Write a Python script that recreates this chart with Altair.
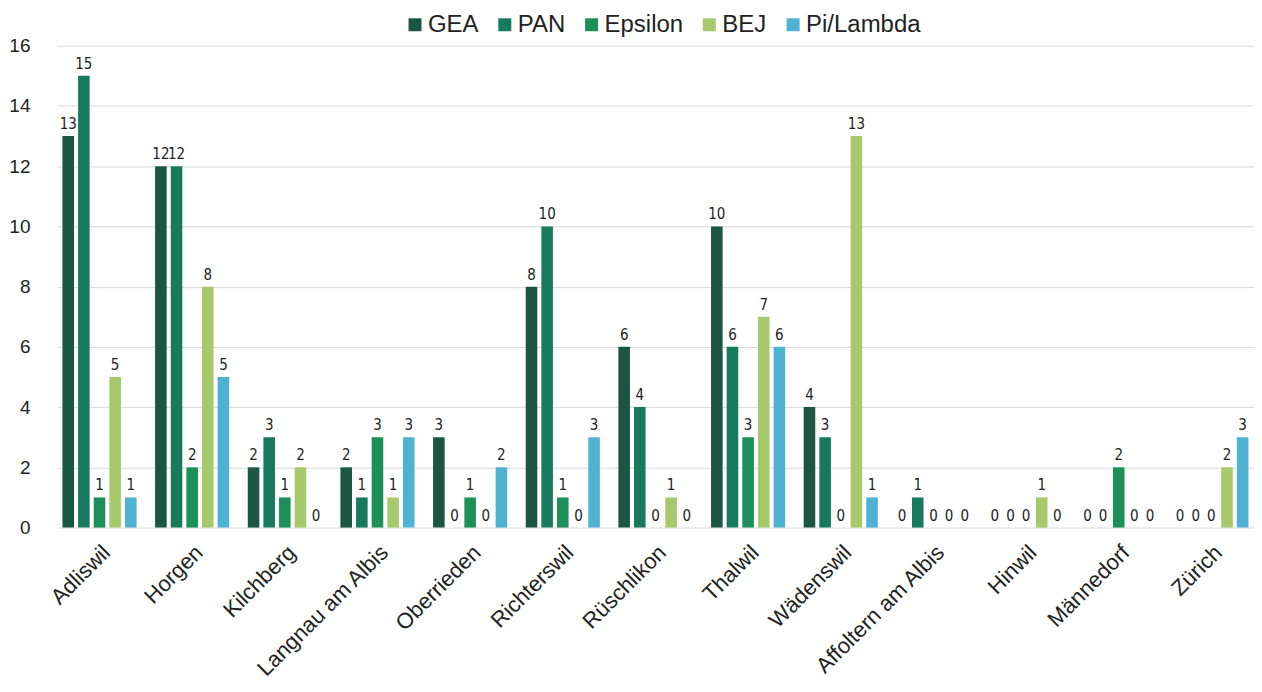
import altair as alt
import pandas as pd

categories = ["Adliswil", "Horgen", "Kilchberg", "Langnau am Albis", "Oberrieden",
              "Richterswil", "Rüschlikon", "Thalwil", "Wädenswil", "Affoltern am Albis",
              "Hinwil", "Männedorf", "Zürich"]
series = ["GEA", "PAN", "Epsilon", "BEJ", "Pi/Lambda"]
gea = [13, 12, 2, 2, 3, 8, 6, 10, 4, 0, 0, 0, 0]
pan = [15, 12, 3, 1, 0, 10, 4, 6, 3, 1, 0, 0, 0]
epsilon = [1, 2, 1, 3, 1, 1, 0, 3, 0, 0, 0, 2, 0]
bej = [5, 8, 2, 1, 0, 0, 1, 7, 13, 0, 1, 0, 2]
pilambda = [1, 5, 0, 3, 2, 3, 0, 6, 1, 0, 0, 0, 3]
colors = ["#1a5641", "#187a5c", "#1d8f58", "#a5c96b", "#4fb2d3"]

rows = []
for name, vals in zip(series, [gea, pan, epsilon, bej, pilambda]):
    for c, v in zip(categories, vals):
        rows.append({"Gemeinde": c, "Serie": name, "Wert": v})
df = pd.DataFrame(rows)

x = alt.X("Gemeinde:N", sort=categories, title=None,
          scale=alt.Scale(paddingInner=0.2, paddingOuter=0.06),
          axis=alt.Axis(labelAngle=-45, labelFontSize=22, labelColor="#222",
                        labelFont="Liberation Sans", ticks=False, domain=False,
                        labelPadding=14, labelAlign="right", labelBaseline="top"))
xo = alt.XOffset("Serie:N", sort=series, scale=alt.Scale(paddingInner=0.26))
y = alt.Y("Wert:Q", title=None,
          scale=alt.Scale(domain=[0, 16]),
          axis=alt.Axis(values=list(range(0, 17, 2)), labelFontSize=19, labelColor="#222",
                        labelFont="Liberation Sans", ticks=False, domain=False,
                        labelPadding=27, gridColor="#d9d9d9", gridWidth=1))
color = alt.Color("Serie:N", sort=series,
                  scale=alt.Scale(domain=series, range=colors),
                  legend=alt.Legend(title=None, orient="none", direction="horizontal",
                                    legendX=347, legendY=-33, symbolType="square",
                                    symbolSize=169, labelFontSize=24, labelFont="Liberation Sans",
                                    labelColor="#222", columnPadding=14, symbolOpacity=1,
                                    labelOffset=1))

bars = alt.Chart(df).mark_bar().encode(x=x, xOffset=xo, y=y, color=color)
labels = alt.Chart(df).mark_text(dy=-12, fontSize=15,
                                 font="'Liberation Sans Narrow', 'DejaVu Sans Condensed', 'Liberation Sans'",
                                 color="#222").encode(
    x=x, xOffset=xo, y=y, text="Wert:Q")

chart = (bars + labels).properties(
    width=1200, height=483, padding={"top": 4, "left": 0, "right": 0, "bottom": 0},
    background="white"
).configure_view(stroke=None)
chart.save("out.html", embed_options={"renderer": "svg", "actions": False})
